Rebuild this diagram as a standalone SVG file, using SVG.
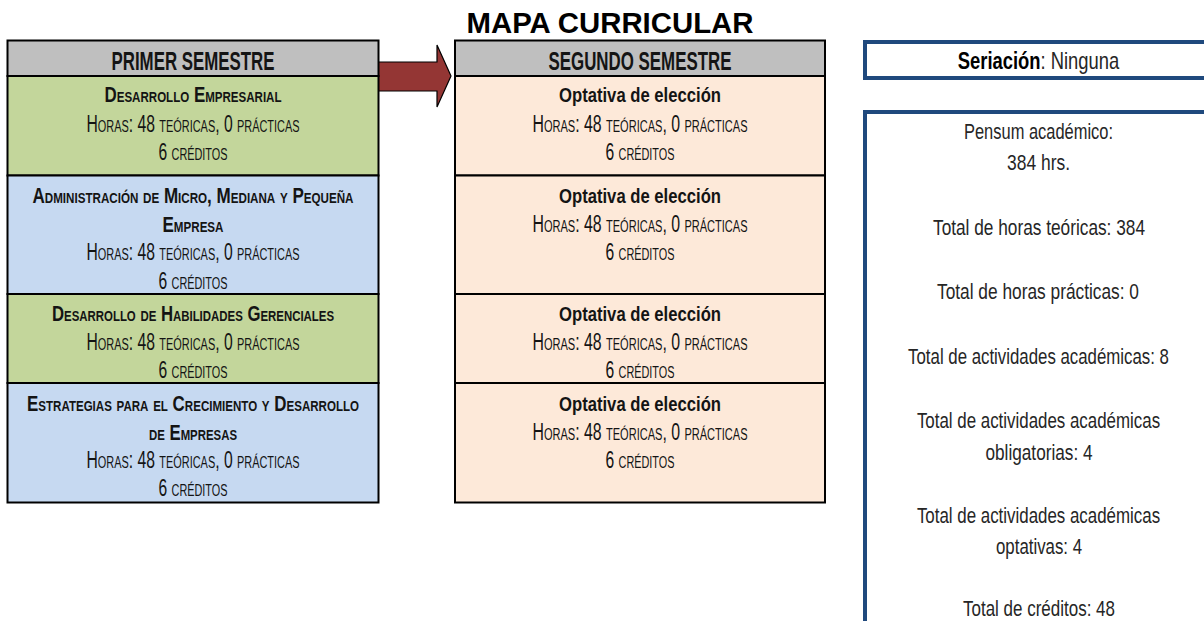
<svg xmlns="http://www.w3.org/2000/svg" width="1204" height="621" viewBox="0 0 1204 621">
<style>
  text { font-family: "Liberation Sans Narrow", "Liberation Sans", Arial, sans-serif; fill: #141414; text-anchor: middle; }
  .title { font-family: "Liberation Sans", Arial, sans-serif; font-weight: bold; font-size: 29px; fill: #000; }
  .hdr { font-weight: bold; font-size: 26px; }
  .course { font-weight: bold; font-size: 22px; font-variant: small-caps; }
  .opt { font-weight: bold; font-size: 21px; }
  .sc { font-size: 23px; font-variant: small-caps; }
  .info { font-size: 22px; fill: #262626; }
  .hdrbox { fill: #BFBFBF; stroke: #000; stroke-width: 2; }
  .green { fill: #C3D69B; stroke: #000; stroke-width: 2; }
  .blue { fill: #C6D9F1; stroke: #000; stroke-width: 2; }
  .peach { fill: #FDE9D9; stroke: #000; stroke-width: 2; }
  .panel { fill: #fff; stroke: #1F497D; stroke-width: 4; }
</style>

<text class="title" x="610" y="33" textLength="287" lengthAdjust="spacingAndGlyphs">MAPA CURRICULAR</text>

<g id="connectors">
  <polygon points="378,62 437,62 437,45 451,76 437,107 437,91 378,91" fill="#943634" stroke="#000" stroke-width="1.2"/>
</g>

<g id="primer-semestre">
  <rect class="hdrbox" x="7.5" y="40.5" width="371" height="35.5"/>
  <text class="hdr" x="193" y="69.5" textLength="163" lengthAdjust="spacingAndGlyphs">PRIMER SEMESTRE</text>
</g>

<g id="desarrollo-empresarial">
  <rect class="green" x="7.5" y="76" width="371" height="99.5"/>
  <text class="course" x="193" y="102" textLength="177" lengthAdjust="spacingAndGlyphs">Desarrollo Empresarial</text>
  <text class="sc" x="193" y="131.5" textLength="213" lengthAdjust="spacingAndGlyphs">Horas: 48 teóricas, 0 prácticas</text>
  <text class="sc" x="193" y="159.5" textLength="69" lengthAdjust="spacingAndGlyphs">6 créditos</text>
</g>

<g id="administracion-mipymes">
  <rect class="blue" x="7.5" y="175.5" width="371" height="118.5"/>
  <text class="course" x="193" y="202.5" textLength="321" lengthAdjust="spacingAndGlyphs">Administración de Micro, Mediana y Pequeña</text>
  <text class="course" x="193" y="231.5" textLength="61" lengthAdjust="spacingAndGlyphs">Empresa</text>
  <text class="sc" x="193" y="260" textLength="213" lengthAdjust="spacingAndGlyphs">Horas: 48 teóricas, 0 prácticas</text>
  <text class="sc" x="193" y="288.5" textLength="69" lengthAdjust="spacingAndGlyphs">6 créditos</text>
</g>

<g id="habilidades-gerenciales">
  <rect class="green" x="7.5" y="294" width="371" height="89"/>
  <text class="course" x="193" y="321" textLength="282" lengthAdjust="spacingAndGlyphs">Desarrollo de Habilidades Gerenciales</text>
  <text class="sc" x="193" y="350" textLength="213" lengthAdjust="spacingAndGlyphs">Horas: 48 teóricas, 0 prácticas</text>
  <text class="sc" x="193" y="378" textLength="69" lengthAdjust="spacingAndGlyphs">6 créditos</text>
</g>

<g id="estrategias-crecimiento">
  <rect class="blue" x="7.5" y="383" width="371" height="119.5"/>
  <text class="course" x="193" y="411" textLength="332" lengthAdjust="spacingAndGlyphs">Estrategias para el Crecimiento y Desarrollo</text>
  <text class="course" x="193" y="439.5" textLength="88" lengthAdjust="spacingAndGlyphs">de Empresas</text>
  <text class="sc" x="193" y="467.5" textLength="213" lengthAdjust="spacingAndGlyphs">Horas: 48 teóricas, 0 prácticas</text>
  <text class="sc" x="193" y="496" textLength="69" lengthAdjust="spacingAndGlyphs">6 créditos</text>
</g>

<g id="segundo-semestre">
  <rect class="hdrbox" x="455" y="40.5" width="370" height="35.5"/>
  <text class="hdr" x="640" y="69.5" textLength="183" lengthAdjust="spacingAndGlyphs">SEGUNDO SEMESTRE</text>
</g>

<g id="optativa-1">
  <rect class="peach" x="455" y="76" width="370" height="99.5"/>
  <text class="opt" x="640" y="102" textLength="162" lengthAdjust="spacingAndGlyphs">Optativa de elección</text>
  <text class="sc" x="640" y="131.5" textLength="215" lengthAdjust="spacingAndGlyphs">Horas: 48 teóricas, 0 prácticas</text>
  <text class="sc" x="640" y="159.5" textLength="69" lengthAdjust="spacingAndGlyphs">6 créditos</text>
</g>

<g id="optativa-2">
  <rect class="peach" x="455" y="175.5" width="370" height="118.5"/>
  <text class="opt" x="640" y="202.5" textLength="162" lengthAdjust="spacingAndGlyphs">Optativa de elección</text>
  <text class="sc" x="640" y="231.5" textLength="215" lengthAdjust="spacingAndGlyphs">Horas: 48 teóricas, 0 prácticas</text>
  <text class="sc" x="640" y="260" textLength="69" lengthAdjust="spacingAndGlyphs">6 créditos</text>
</g>

<g id="optativa-3">
  <rect class="peach" x="455" y="294" width="370" height="89"/>
  <text class="opt" x="640" y="321" textLength="162" lengthAdjust="spacingAndGlyphs">Optativa de elección</text>
  <text class="sc" x="640" y="350" textLength="215" lengthAdjust="spacingAndGlyphs">Horas: 48 teóricas, 0 prácticas</text>
  <text class="sc" x="640" y="378" textLength="69" lengthAdjust="spacingAndGlyphs">6 créditos</text>
</g>

<g id="optativa-4">
  <rect class="peach" x="455" y="383" width="370" height="119.5"/>
  <text class="opt" x="640" y="411" textLength="162" lengthAdjust="spacingAndGlyphs">Optativa de elección</text>
  <text class="sc" x="640" y="439.5" textLength="215" lengthAdjust="spacingAndGlyphs">Horas: 48 teóricas, 0 prácticas</text>
  <text class="sc" x="640" y="467.5" textLength="69" lengthAdjust="spacingAndGlyphs">6 créditos</text>
</g>

<g id="seriacion">
  <rect class="panel" x="865" y="42" width="360" height="36"/>
  <text class="info" transform="translate(1038.5 68.5) scale(0.8 1)" x="0" y="0" style="font-size:23px"><tspan style="font-weight:bold;fill:#000">Seriación</tspan>: Ninguna</text>
</g>

<g id="pensum">
  <rect class="panel" x="865" y="112" width="360" height="540"/>
  <text class="info" x="1038.5" y="138.5" textLength="149" lengthAdjust="spacingAndGlyphs">Pensum académico:</text>
  <text class="info" x="1038.5" y="170" textLength="63" lengthAdjust="spacingAndGlyphs">384 hrs.</text>
  <text class="info" x="1039" y="235" textLength="212" lengthAdjust="spacingAndGlyphs">Total de horas teóricas: 384</text>
  <text class="info" x="1038" y="298.5" textLength="202" lengthAdjust="spacingAndGlyphs">Total de horas prácticas: 0</text>
  <text class="info" transform="translate(1038.5 363.5) scale(0.8 1)" x="0" y="0" textLength="326" lengthAdjust="spacingAndGlyphs">Total de actividades académicas: 8</text>
  <text class="info" transform="translate(1038.5 427.5) scale(0.8 1)" x="0" y="0" textLength="304" lengthAdjust="spacingAndGlyphs">Total de actividades académicas</text>
  <text class="info" x="1039" y="459.5" textLength="107" lengthAdjust="spacingAndGlyphs">obligatorias: 4</text>
  <text class="info" transform="translate(1038.5 522.5) scale(0.8 1)" x="0" y="0" textLength="304" lengthAdjust="spacingAndGlyphs">Total de actividades académicas</text>
  <text class="info" x="1039" y="554" textLength="86" lengthAdjust="spacingAndGlyphs">optativas: 4</text>
  <text class="info" x="1039" y="616" textLength="152" lengthAdjust="spacingAndGlyphs">Total de créditos: 48</text>
</g>
</svg>
